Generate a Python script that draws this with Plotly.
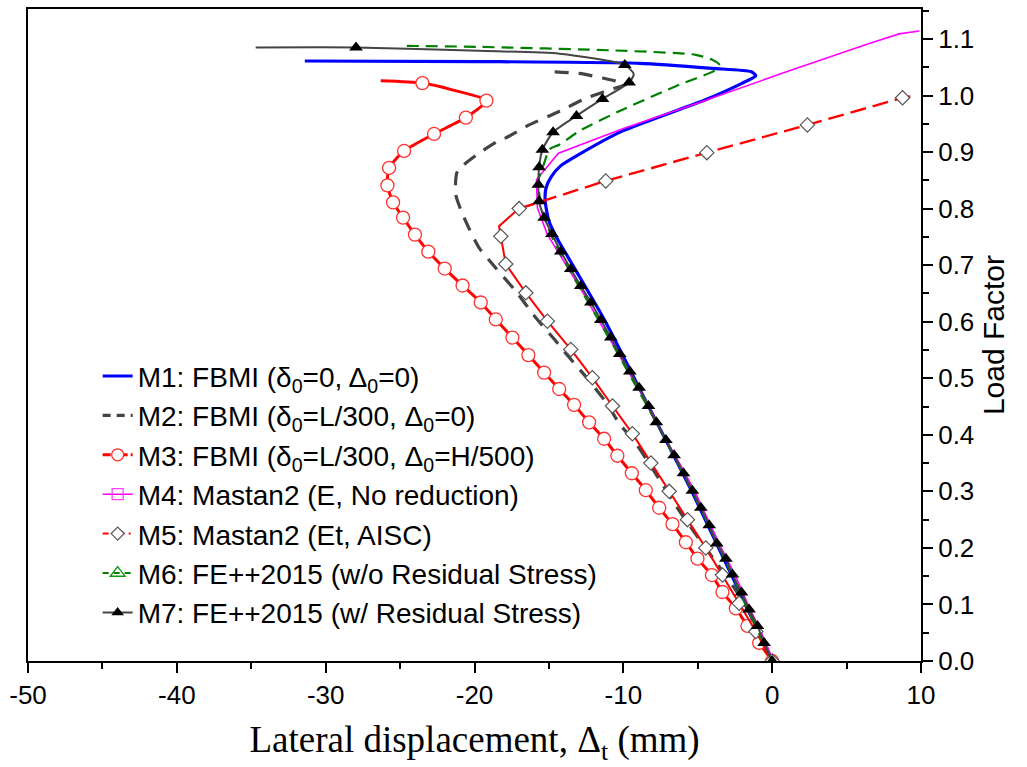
import plotly.graph_objects as go

# ---------------- data ----------------
x_ticks = [-50, -40, -30, -20, -10, 0, 10]
y_ticks = [0.0, 0.1, 0.2, 0.3, 0.4, 0.5, 0.6, 0.7, 0.8, 0.9, 1.0, 1.1]

names = [
    "M1: FBMI (δ<sub>0</sub>=0, Δ<sub>0</sub>=0)",
    "M2: FBMI (δ<sub>0</sub>=L/300, Δ<sub>0</sub>=0)",
    "M3: FBMI (δ<sub>0</sub>=L/300, Δ<sub>0</sub>=H/500)",
    "M4: Mastan2 (E, No reduction)",
    "M5: Mastan2 (Et, AISC)",
    "M6: FE++2015 (w/o Residual Stress)",
    "M7: FE++2015 (w/ Residual Stress)",
]

m1_x = [0, -2.7, -5.4, -8.3, -11.2, -13.4, -14.5, -15.0, -15.25, -15.2, -14.85, -14.2, -12.97,
        -10.08, -4.44, -2.0, -1.1, -1.4, -4.0, -8.9, -19.7, -31.4]
m1_y = [0, 0.15, 0.30, 0.45, 0.60, 0.70, 0.75, 0.778, 0.813, 0.836, 0.856, 0.876, 0.896,
        0.937, 0.993, 1.022, 1.035, 1.042, 1.048, 1.057, 1.060, 1.061]

m2_x = [0, -0.42, -1.21, -2.44, -3.7, -5.0, -6.25, -8.04, -9.3, -10.25, -11.07, -12.3,
        -13.64, -14.54, -15.88, -17.23, -18.57, -19.7, -20.7, -21.26, -21.15, -19.7,
        -18.46, -17.9, -16.33, -14.54, -12.52, -10.95, -9.83, -11.4, -12.97, -14.76]
m2_y = [0, 0.025, 0.072, 0.125, 0.172, 0.219, 0.266, 0.34, 0.39, 0.419, 0.454, 0.496,
        0.537, 0.566, 0.607, 0.654, 0.695, 0.731, 0.784, 0.825, 0.866, 0.898,
        0.919, 0.925, 0.948, 0.969, 0.995, 1.01, 1.02, 1.031, 1.039, 1.042]

m3_x = [0, -0.87, -1.66, -2.44, -3.34, -4.05, -5.02, -5.8, -6.7, -7.59, -8.49, -9.43,
        -10.4, -11.29, -12.3, -13.31, -14.31, -15.32, -16.38, -17.45, -18.57, -19.58,
        -20.8, -22.0, -23.1, -24.0, -24.8, -25.47, -25.85, -25.74, -24.73, -22.72,
        -20.58, -19.2, -21.5, -23.5, -26.3]
m3_y = [0, 0.032, 0.062, 0.093, 0.122, 0.152, 0.181, 0.21, 0.242, 0.271, 0.302, 0.332,
        0.363, 0.393, 0.422, 0.453, 0.481, 0.51, 0.541, 0.572, 0.604, 0.634,
        0.664, 0.694, 0.724, 0.754, 0.784, 0.811, 0.841, 0.872, 0.902, 0.932,
        0.961, 0.991, 1.010, 1.022, 1.026]
m3_plain = [34, 36]          # line-only vertices (no marker)

m4_x = [0.1, -0.76, -1.66, -2.49, -3.45, -4.35, -5.24, -6.25, -7.37, -8.31, -9.43, -10.5,
        -11.63, -12.7, -13.91, -15.1, -15.77, -15.84, -14.36, -9.95, -4.5, 0.96, 6.52,
        8.53, 9.9]
m4_y = [0, 0.052, 0.102, 0.152, 0.202, 0.252, 0.302, 0.351, 0.402, 0.453, 0.501, 0.551,
        0.601, 0.651, 0.704, 0.754, 0.801, 0.851, 0.898, 0.942, 0.991, 1.042, 1.092,
        1.109, 1.114]
m4_plain = [23, 24]

m5_x = [0, -1.1, -2.22, -3.34, -4.46, -5.69, -6.92, -8.15, -9.39, -10.73, -12.08, -13.53,
        -15.1, -16.55, -17.9, -18.23, -18.35, -17.45, -17.0, -11.18, -4.39, 2.37, 8.76, 9.66]
m5_y = [0, 0.052, 0.102, 0.152, 0.20, 0.25, 0.30, 0.35, 0.402, 0.451, 0.501, 0.551,
        0.601, 0.651, 0.702, 0.751, 0.769, 0.79, 0.80, 0.849, 0.899, 0.948, 0.996, 1.0]
m5_plain = [16, 17, 23]
m5_split = 18                # solid up to this vertex, dashed after

m6_x = [0, -0.9, -1.8, -2.65, -3.55, -4.45, -5.36, -6.35, -7.35, -8.38, -9.45, -10.5,
        -11.6, -12.7, -13.8, -14.8, -15.5, -15.7, -15.35, -14.95, -14.3, -12.97, -10.06,
        -6.25, -3.8, -3.56, -4.0, -5.13, -10.9, -19.7, -25.0]
m6_y = [0, 0.05, 0.10, 0.15, 0.20, 0.25, 0.30, 0.35, 0.40, 0.45, 0.50, 0.55,
        0.60, 0.65, 0.70, 0.75, 0.80, 0.85, 0.878, 0.905, 0.913, 0.937, 0.975,
        1.019, 1.045, 1.055, 1.063, 1.072, 1.080, 1.086, 1.088]
m6_marked = [0, 3, 6, 9, 12, 15, 19, 25]

m7_x = [0, -0.54, -0.99, -1.55, -2.06, -2.67, -3.11, -3.72, -4.23, -4.79, -5.36, -5.96,
        -6.59, -7.14, -7.78, -8.31, -8.94, -9.56, -10.24, -10.84, -11.51, -12.18, -12.86,
        -13.53, -14.20, -14.80, -15.32, -15.66, -15.71, -15.66, -15.44, -14.72, -13.15,
        -11.40, -9.61, -9.3, -9.9, -14.3, -19.7, -27.96, -34.7]
m7_y = [0, 0.032, 0.062, 0.091, 0.121, 0.153, 0.181, 0.208, 0.240, 0.271, 0.301, 0.332,
        0.364, 0.391, 0.422, 0.451, 0.483, 0.512, 0.543, 0.572, 0.603, 0.634, 0.663,
        0.693, 0.724, 0.755, 0.784, 0.813, 0.842, 0.873, 0.904, 0.935, 0.964,
        0.994, 1.023, 1.038, 1.054, 1.074, 1.079, 1.085, 1.085]
m7_plain = [35, 37, 38, 40]

# ---------------- figure ----------------
fig = go.Figure()


def pick(vals, idx):
    return [vals[i] for i in idx]


def add_line(x, y, color, width, dash="solid", shape="linear"):
    fig.add_trace(go.Scatter(x=x, y=y, mode="lines", showlegend=False, hoverinfo="skip",
                             line=dict(color=color, width=width, dash=dash, shape=shape,
                                       smoothing=0.6)))


def add_markers(x, y, idx, symbol, size, color, fill, lw):
    fig.add_trace(go.Scatter(x=pick(x, idx), y=pick(y, idx), mode="markers",
                             showlegend=False, hoverinfo="skip",
                             marker=dict(symbol=symbol, size=size, color=fill,
                                         line=dict(color=color, width=lw))))


# M1
add_line(m1_x, m1_y, "#0000FF", 3.2, shape="spline")
# M2
add_line(m2_x, m2_y, "#444444", 3.2, "14px,10px", shape="spline")
# M3
add_line(m3_x, m3_y, "#FF0000", 3, shape="spline")
add_markers(m3_x, m3_y, [i for i in range(len(m3_x)) if i not in m3_plain],
            "circle", 13, "#FF3030", "white", 1.3)
# M4
add_line(m4_x, m4_y, "#FF00FF", 1.6)
add_markers(m4_x, m4_y, [i for i in range(len(m4_x)) if i not in m4_plain],
            "square-open", 11, "#FF44FF", "rgba(0,0,0,0)", 1.3)
# M5
add_line(m5_x[:m5_split + 1], m5_y[:m5_split + 1], "#FF0000", 2)
add_line(m5_x[m5_split:], m5_y[m5_split:], "#FF0000", 2.4, "16px,7px")
add_markers(m5_x, m5_y, [i for i in range(len(m5_x)) if i not in m5_plain],
            "diamond", 11, "#555555", "white", 1.2)
# M6
add_line(m6_x, m6_y, "#008000", 2.2, "12px,7px", shape="spline")
add_markers(m6_x, m6_y, m6_marked, "triangle-up-open", 13, "#119911", "rgba(0,0,0,0)", 1.3)
# M7
add_line(m7_x, m7_y, "#444444", 2, shape="spline")
add_markers(m7_x, m7_y, [i for i in range(len(m7_x)) if i not in m7_plain],
            "triangle-up", 12, "black", "black", 0)

# legend entries
leg_styles = [
    dict(line=dict(color="#0000FF", width=3.2), mode="lines"),
    dict(line=dict(color="#444444", width=3.2, dash="8px,6px"), mode="lines"),
    dict(line=dict(color="#FF0000", width=3, dash="8px,3px,3px,3px"), mode="lines+markers",
         marker=dict(symbol="circle", size=12, color="white", line=dict(color="#FF3030", width=1.3))),
    dict(line=dict(color="#FF00FF", width=1.6), mode="lines+markers",
         marker=dict(symbol="square-open", size=11, color="#FF44FF", line=dict(width=1.3))),
    dict(line=dict(color="#FF0000", width=2, dash="6px,4px,2px,4px"), mode="lines+markers",
         marker=dict(symbol="diamond", size=10, color="white", line=dict(color="#555555", width=1.2))),
    dict(line=dict(color="#008000", width=2, dash="6px,5px"), mode="lines+markers",
         marker=dict(symbol="triangle-up-open", size=13, color="#119911", line=dict(width=1.3))),
    dict(line=dict(color="#444444", width=2), mode="lines+markers",
         marker=dict(symbol="triangle-up", size=11, color="black")),
]
for nm, st in zip(names, leg_styles):
    fig.add_trace(go.Scatter(x=[None], y=[None], name=nm, **st))

axis_font = dict(family="Liberation Sans, Arial", size=26, color="black")

fig.update_layout(
    width=1027, height=767,
    margin=dict(l=28, r=106, t=7, b=106),
    paper_bgcolor="white", plot_bgcolor="white",
    showlegend=True,
    legend=dict(x=0.078, y=0.475, xanchor="left", yanchor="top",
                bgcolor="rgba(0,0,0,0)", borderwidth=0,
                font=dict(family="Liberation Sans, Arial", size=28, color="black"),
                itemwidth=30, tracegroupgap=0),
    xaxis=dict(range=[-50, 10], tickmode="array", tickvals=x_ticks,
               ticktext=[str(v) for v in x_ticks],
               ticks="outside", ticklen=10, tickwidth=2, tickcolor="black",
               showline=True, linewidth=2, linecolor="black", mirror=True,
               showgrid=False, zeroline=False, tickfont=axis_font,
               minor=dict(tick0=-50, dtick=5, ticks="outside", ticklen=6,
                          tickwidth=2, tickcolor="black", showgrid=False),
               title=dict(text="Lateral displacement, Δ<sub>t</sub> (mm)",
                          font=dict(family="Liberation Serif, Times New Roman", size=37,
                                    color="black"), standoff=17)),
    yaxis=dict(range=[0, 1.153], side="right", tickmode="array", tickvals=y_ticks,
               ticktext=[f"{v:.1f}" for v in y_ticks],
               ticks="outside", ticklen=10, tickwidth=2, tickcolor="black",
               showline=True, linewidth=2, linecolor="black", mirror=True,
               showgrid=False, zeroline=False, tickfont=axis_font,
               minor=dict(tick0=0, dtick=0.05, ticks="outside", ticklen=6,
                          tickwidth=2, tickcolor="black", showgrid=False),
               title=dict(text="Load Factor",
                          font=dict(family="Liberation Sans, Arial", size=30, color="black"),
                          standoff=10)),
)

fig.write_html("out.html")
